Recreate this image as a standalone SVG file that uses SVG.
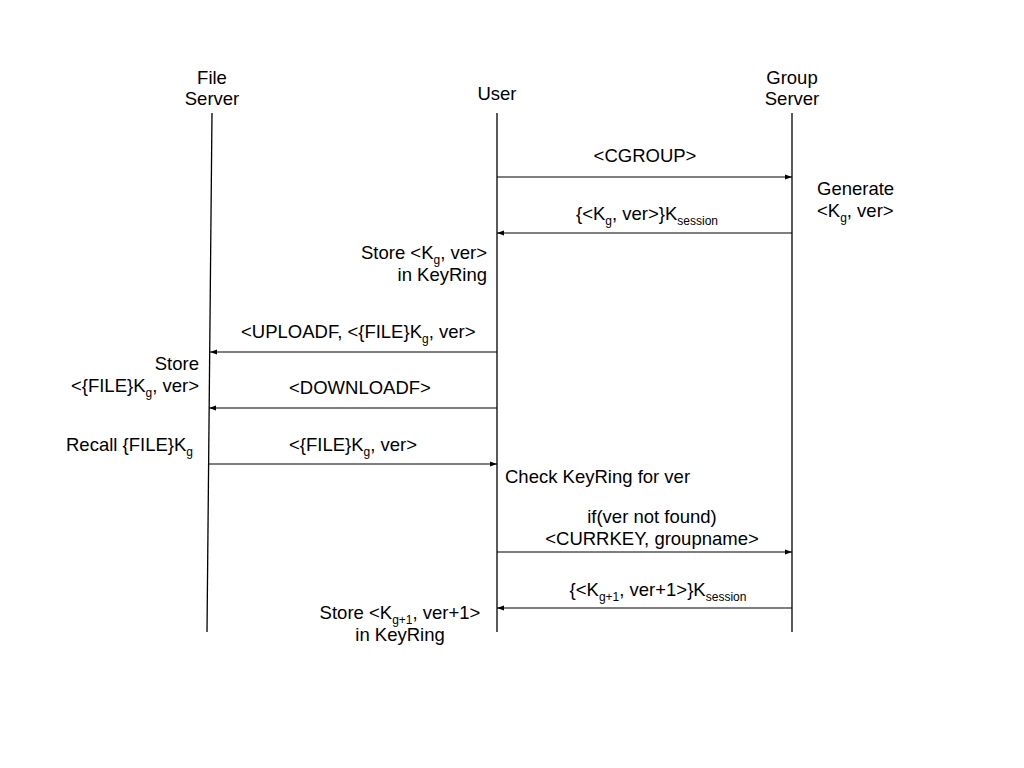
<svg xmlns="http://www.w3.org/2000/svg" width="1024" height="768" viewBox="0 0 1024 768">
<style>
text{font-family:"Liberation Sans",Arial,sans-serif;font-size:18.5px;fill:#000}
.s{font-size:12px}
.life{stroke:#000;stroke-width:1.3;fill:none}
.msg{stroke:#000;stroke-width:1.2;fill:none;marker-end:url(#ah)}
.m{text-anchor:middle}
.e{text-anchor:end}
</style>
<defs>
<marker id="ah" viewBox="0 0 10 10" refX="10" refY="5" markerWidth="7" markerHeight="7" markerUnits="userSpaceOnUse" orient="auto">
<path d="M0,1.5 L10,5 L0,8.5 Z" fill="#000"/>
</marker>
</defs>
<rect width="1024" height="768" fill="#fff"/>
<g id="fileserver">
<text class="m" x="212" y="84">File</text>
<text class="m" x="212" y="105">Server</text>
<line class="life" x1="212" y1="113" x2="207" y2="632"/>
</g>
<g id="user">
<text class="m" x="497" y="100">User</text>
<line class="life" x1="497" y1="113" x2="497" y2="632"/>
</g>
<g id="groupserver">
<text class="m" x="792" y="84">Group</text>
<text class="m" x="792" y="105">Server</text>
<line class="life" x1="792" y1="113" x2="792" y2="632"/>
</g>
<g id="connectors">
<line class="msg" x1="497" y1="177" x2="792" y2="177"/>
<line class="msg" x1="792" y1="233" x2="497" y2="233"/>
<line class="msg" x1="497" y1="352" x2="210" y2="352"/>
<line class="msg" x1="497" y1="408" x2="209" y2="408"/>
<line class="msg" x1="209" y1="464" x2="497" y2="464"/>
<line class="msg" x1="497" y1="552" x2="792" y2="552"/>
<line class="msg" x1="792" y1="608" x2="497" y2="608"/>
</g>
<g id="labels">
<text class="m" x="645" y="162">&lt;CGROUP&gt;</text>
<text class="m" x="647" y="220">{&lt;K<tspan class="s" dy="5">g</tspan><tspan dy="-5">, ver&gt;}K</tspan><tspan class="s" dy="5">session</tspan></text>
<text x="817" y="195">Generate</text>
<text x="817" y="217">&lt;K<tspan class="s" dy="5">g</tspan><tspan dy="-5">, ver&gt;</tspan></text>
<text class="e" x="487" y="259">Store &lt;K<tspan class="s" dy="5">g</tspan><tspan dy="-5">, ver&gt;</tspan></text>
<text class="e" x="487" y="281">in KeyRing</text>
<text x="241" y="338">&lt;UPLOADF, &lt;{FILE}K<tspan class="s" dy="5">g</tspan><tspan dy="-5">, ver&gt;</tspan></text>
<text class="e" x="199" y="370">Store</text>
<text class="e" x="199" y="392">&lt;{FILE}K<tspan class="s" dy="5">g</tspan><tspan dy="-5">, ver&gt;</tspan></text>
<text class="m" x="360" y="394">&lt;DOWNLOADF&gt;</text>
<text x="66" y="451">Recall {FILE}K<tspan class="s" dy="5">g</tspan></text>
<text x="289" y="451">&lt;{FILE}K<tspan class="s" dy="5">g</tspan><tspan dy="-5">, ver&gt;</tspan></text>
<text x="505" y="483">Check KeyRing for ver</text>
<text class="m" x="652" y="523">if(ver not found)</text>
<text class="m" x="652" y="545">&lt;CURRKEY, groupname&gt;</text>
<text class="m" x="658" y="596">{&lt;K<tspan class="s" dy="5">g+1</tspan><tspan dy="-5">, ver+1&gt;}K</tspan><tspan class="s" dy="5">session</tspan></text>
<text class="m" x="400" y="619">Store &lt;K<tspan class="s" dy="5">g+1</tspan><tspan dy="-5">, ver+1&gt;</tspan></text>
<text class="m" x="400" y="641">in KeyRing</text>
</g>
</svg>
